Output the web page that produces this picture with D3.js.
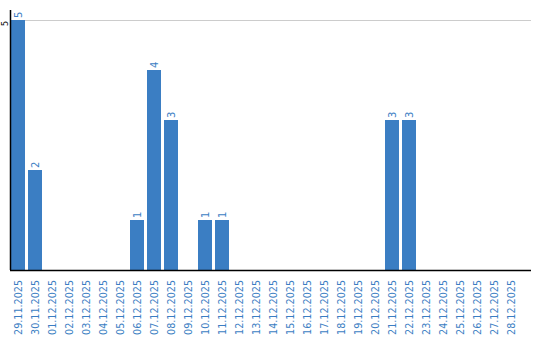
<!DOCTYPE html>
<html lang="en">
<head>
    <meta charset="UTF-8">
    <title>Daily count</title>
    <style>
        body { margin: 0; background: #fff; }
        text { font-family: "DejaVu Sans", Verdana, sans-serif; }
        .bar { fill: #3b7ec3; }
        .tick-label, .value-label { fill: #3b7ec3; font-size: 10px; }
        .tick-label { font-size: 9.6px; }
        .grid { stroke: #cccccc; stroke-width: 1px; }
        .axis-line { stroke: #000; stroke-width: 1.5px; }
    </style>
</head>
<body>
    <div id="chart"></div>
    <script src="https://d3js.org/d3.v7.min.js"></script>
    <script>
        // Data
        const dates = [
            '29.11.2025', '30.11.2025', '01.12.2025', '02.12.2025', '03.12.2025',
            '04.12.2025', '05.12.2025', '06.12.2025', '07.12.2025', '08.12.2025',
            '09.12.2025', '10.12.2025', '11.12.2025', '12.12.2025', '13.12.2025',
            '14.12.2025', '15.12.2025', '16.12.2025', '17.12.2025', '18.12.2025',
            '19.12.2025', '20.12.2025', '21.12.2025', '22.12.2025', '23.12.2025',
            '24.12.2025', '25.12.2025', '26.12.2025', '27.12.2025', '28.12.2025'
        ];
        const counts = [5, 2, 0, 0, 0, 0, 0, 1, 4, 3, 0, 1, 1, 0, 0,
                        0, 0, 0, 0, 0, 0, 0, 3, 3, 0, 0, 0, 0, 0, 0];
        const yTicks = [5];

        const data = dates.map((d, i) => ({ date: d, value: counts[i] }));

        const width = 540, height = 340;
        const plotLeft = 11, plotRight = 531, plotTop = 20, plotBottom = 270;

        const svg = d3.select("#chart").append("svg")
            .attr("width", width)
            .attr("height", height);

        const x = d3.scaleBand()
            .domain(dates)
            .range([plotLeft, 518])
            .paddingInner(3 / 17)
            .paddingOuter(0);

        const y = d3.scaleLinear()
            .domain([0, 5])
            .range([plotBottom, plotTop]);

        // Grid lines
        svg.selectAll(".grid")
            .data(yTicks)
            .enter().append("line")
            .attr("class", "grid")
            .attr("x1", plotLeft)
            .attr("x2", plotRight)
            .attr("y1", d => Math.round(y(d)) + 0.5)
            .attr("y2", d => Math.round(y(d)) + 0.5);

        // Y tick labels (rotated)
        svg.selectAll(".y-label")
            .data(yTicks)
            .enter().append("text")
            .attr("class", "y-label")
            .attr("transform", d => `translate(8,${y(d) + 1}) rotate(-90)`)
            .attr("text-anchor", "end")
            .style("font-size", "8px")
            .style("fill", "#000")
            .text(d => d);

        // Bars
        const shown = data.filter(d => d.value > 0);
        svg.selectAll(".bar")
            .data(shown)
            .enter().append("rect")
            .attr("class", "bar")
            .attr("x", d => x(d.date))
            .attr("y", d => y(d.value))
            .attr("width", x.bandwidth())
            .attr("height", d => y(0) - y(d.value));

        // Value labels above bars
        svg.selectAll(".value-label")
            .data(shown)
            .enter().append("text")
            .attr("class", "value-label")
            .attr("transform", d => `translate(${x(d.date) + x.bandwidth() / 2 + 3.5},${y(d.value) - 2}) rotate(-90)`)
            .attr("text-anchor", "start")
            .text(d => d.value);

        // Axes lines
        svg.append("line")
            .attr("class", "axis-line")
            .attr("x1", plotLeft - 0.5).attr("x2", plotLeft - 0.5)
            .attr("y1", 10).attr("y2", plotBottom);
        svg.append("line")
            .attr("class", "axis-line")
            .attr("x1", plotLeft - 1).attr("x2", plotRight)
            .attr("y1", plotBottom + 0.5).attr("y2", plotBottom + 0.5);

        // X tick labels (rotated)
        svg.selectAll(".tick-label")
            .data(dates)
            .enter().append("text")
            .attr("class", "tick-label")
            .attr("transform", d => `translate(${x(d) + x.bandwidth() / 2 + 3.5},${plotBottom + 10}) rotate(-90)`)
            .attr("text-anchor", "end")
            .text(d => d);
    </script>
</body>
</html>
